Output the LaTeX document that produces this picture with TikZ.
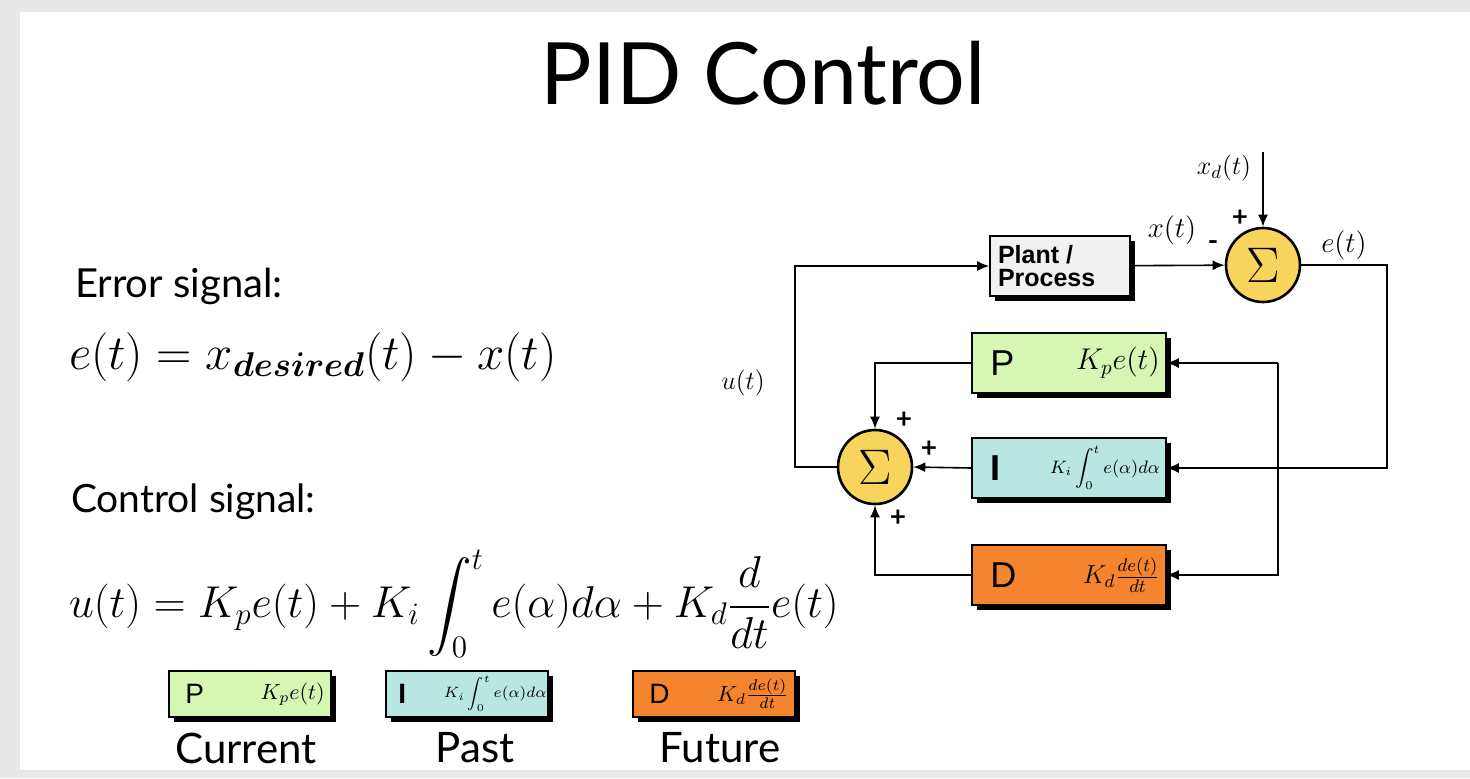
\RequirePackage{fix-cm}
\documentclass[tikz,border=0pt]{standalone}
\usepackage{amssymb,amsmath,bm}
\usepackage{fontspec}
\setmainfont{Lato}
\newfontfamily\boxfont{Liberation Sans}
\usetikzlibrary{shadows,arrows.meta}
\definecolor{pgreen}{HTML}{D5F7B2}
\definecolor{icyan}{HTML}{B9E6E0}
\definecolor{dorange}{HTML}{F5842E}
\definecolor{sumyellow}{HTML}{F7D55C}
\definecolor{plantgrey}{HTML}{F1F1F1}
\begin{document}
\begin{tikzpicture}[x=0.5pt,y=-0.5pt,>={Latex[length=6pt,width=5pt]}]
\tikzstyle{block}=[draw=black,thick,minimum width=97pt,minimum height=30pt,inner sep=0pt,
  drop shadow={shadow xshift=2.5pt,shadow yshift=-2.5pt,fill=black,opacity=1}]
\tikzstyle{small}=[block,minimum width=81pt,minimum height=23pt]
\tikzstyle{sum}=[circle,draw=black,line width=1.3pt,fill=sumyellow,minimum size=37pt,inner sep=0pt,font=\fontsize{25}{25}\selectfont]
\tikzstyle{sig}=[font=\fontsize{14.5}{14.5}\selectfont]
\tikzstyle{sgn}=[font=\fontsize{14}{14}\selectfont\bfseries,inner sep=0pt]
\tikzstyle{wire}=[draw,thick]
\tikzstyle{line}=[wire,->]
% frame
\fill[gray!18] (0,0) rectangle (1470,778);
\fill[white] (20,12) rectangle (1470,770);
\useasboundingbox (0,0) rectangle (1470,778);
% left text
\node (title) at (763,73) {\fontsize{43}{43}\selectfont PID Control};
\node[anchor=west] (errlbl) at (68,286) {\fontsize{20}{20}\selectfont Error signal:};
\node[anchor=west] (erreq) at (62,357) {\fontsize{24.5}{24.5}\selectfont $e(t)=x_{\bm{desired}}(t)-x(t)$};
\node[anchor=west] (ctllbl) at (64,502) {\fontsize{19.5}{19.5}\selectfont Control signal:};
\node[anchor=west] (ctleq) at (62,604) {\fontsize{22.3}{22.3}\selectfont $u(t)=K_pe(t)+K_i\displaystyle\int_0^t e(\alpha)d\alpha+K_d\frac{d}{dt}e(t)$};
% small boxes
\node[small,fill=pgreen] (pcur) at (250,694) {};
\node[anchor=west] at (pcur.west) {\hspace{5pt}\fontsize{14}{14}\boxfont P};
\node[anchor=east] at (pcur.east) {\fontsize{11}{11}\selectfont $K_pe(t)$\hspace{2pt}};
\node[small,fill=icyan] (ipast) at (467,694) {};
\node[anchor=west] at (ipast.west) {\hspace{3pt}\fontsize{14}{14}\boxfont\bfseries I};
\node[anchor=east,inner sep=1pt] at (ipast.east) {\fontsize{7.5}{7.5}\selectfont $K_i\displaystyle\int_0^t e(\alpha)d\alpha$\hspace{2pt}};
\node[small,fill=dorange] (dfut) at (714,694) {};
\node[anchor=west] at (dfut.west) {\hspace{5pt}\fontsize{14}{14}\boxfont D};
\node[anchor=east] at (dfut.east) {\fontsize{11}{11}\selectfont $K_d\frac{de(t)}{dt}$\hspace{2pt}};
\node (cur) at (246,748) {\fontsize{21}{21}\selectfont Current};
\node (past) at (475,748) {\fontsize{21}{21}\selectfont Past};
\node (fut) at (720,748) {\fontsize{21}{21}\selectfont Future};
% block diagram
\node[sum] (s1) at (1263,265) {$\Sigma$};
\node[block,fill=plantgrey,minimum width=70pt] (plant) at (1060,266)
  {\parbox{62pt}{\boxfont\bfseries\fontsize{12.5}{11.5}\selectfont Plant /\\Process}};
\node[block,fill=pgreen] (pb) at (1069,363) {};
\node[block,fill=icyan] (ib) at (1069,468) {};
\node[block,fill=dorange] (db) at (1069,575) {};
\node[anchor=west] at (pb.west) {\hspace{6pt}\fontsize{18}{18}\boxfont P};
\node[anchor=east] at (pb.east) {\fontsize{15}{15}\selectfont $K_pe(t)$\hspace{6pt}};
\node[anchor=west] at (ib.west) {\hspace{6pt}\fontsize{18}{18}\boxfont\bfseries I};
\node[anchor=east] at (ib.east) {\fontsize{9}{9}\selectfont $K_i\displaystyle\int_0^t e(\alpha)d\alpha$\hspace{3pt}};
\node[anchor=west] at (db.west) {\hspace{6pt}\fontsize{18}{18}\boxfont D};
\node[anchor=east] at (db.east) {\fontsize{13}{13}\selectfont $K_d\frac{de(t)}{dt}$\hspace{5pt}};
\node[sum] (s2) at (875,467) {$\Sigma$};
\coordinate (xd) at (1263,152);
\coordinate (eright) at (1387,265);
\coordinate (branch) at (1278,468);
\coordinate (uleft) at (795,467);
% labels
\node[sig,font=\fontsize{13}{13}\selectfont] (xdlbl) at (1224,168) {$x_d(t)$};
\node[sig] (xlbl) at (1172,230) {$x(t)$};
\node[sig] (elbl) at (1344,245) {$e(t)$};
\node[sig,font=\fontsize{13}{13}\selectfont] (ulbl) at (743,383) {$u(t)$};
\node[sgn] at (1240,218) {+};
\node[sgn] at (1213,246) {-};
\node[sgn] at (904,420) {+};
\node[sgn] at (929,449) {+};
\node[sgn] at (898,518) {+};
% connectors
\path[line] (xd) -- (s1);
\path[line] (plant) -- (s1);
\path[line] (s1) -- (eright) |- (ib.east);
\path[line] (branch |- pb) |- (db.east);
\path[line] (branch |- pb) -- (pb.east);
\path[line] (pb.west) -| (s2.north);
\path[line] (ib.west) -- (s2.east);
\path[line] (db.west) -| (s2.south);
\path[line] (s2.west) -- (uleft) |- (plant.west);
\end{tikzpicture}
\end{document}
